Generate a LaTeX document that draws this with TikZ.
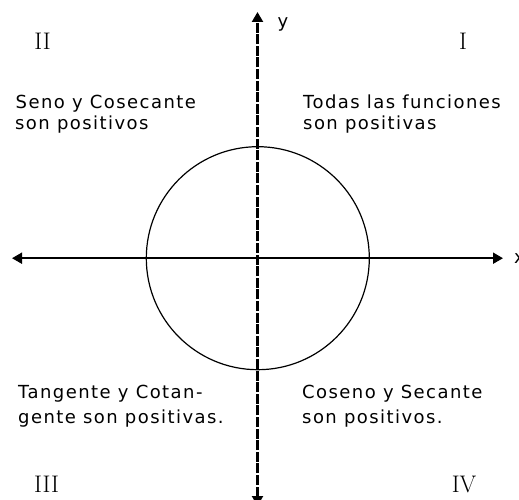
\documentclass[tikz,border=0pt]{standalone}
\usepackage{fontspec}
\newfontfamily\labfont{DejaVu Sans}[LetterSpace=8]
\usetikzlibrary{arrows.meta}
\tikzset{
  lab/.style={inner sep=0pt, anchor=base west, font=\labfont\fontsize{18}{21}\selectfont},
  quad/.style={inner sep=0pt, anchor=base, font=\fontsize{24}{28}\selectfont},
  tip/.style={Triangle[length=10pt,width=11pt]},
  xaxis/.style={line width=1.8pt, {Triangle[length=10pt,width=11pt]}-{Triangle[length=10pt,width=11pt]}},
  yaxis/.style={line width=2.2pt, dash pattern=on 10pt off 1.6pt, {Triangle[length=10pt,width=11pt]}-{Triangle[length=10pt,width=11pt]}},
}
\begin{document}
\begin{tikzpicture}[x=1pt,y=-1pt]
\useasboundingbox (0,0) rectangle (519,500);
\fill[white] (0,0) rectangle (519,500);
\coordinate (O) at (257.8,258.2);
\coordinate (xl) at (12,258.2);
\coordinate (xr) at (503,258.2);
\coordinate (yt) at (257.5,12);
\coordinate (yb) at (257.5,506);
\draw[line width=1.2pt] (O) circle (111.5);
\draw[xaxis] (xl) -- (xr);
\draw[yaxis] (yb) -- (yt);
\node[lab] (ylab) at (277.5,27.7) {y};
\node[lab] (xlab) at (514,263) {x};
\node[quad] (q2) at (42.5,50) {II};
\node[quad] (q1) at (463,50) {I};
\node[quad] (q3) at (46.5,492) {III};
\node[quad] (q4) at (464,492) {IV};
\node[lab] (t2a) at (15.5,109) {Seno y Cosecante};
\node[lab] (t2b) at (15,130) {son positivos};
\node[lab] (t1a) at (303,109) {Todas las funciones};
\node[lab] (t1b) at (303,130) {son positivas};
\node[lab] (t3a) at (18,398) {Tangente y Cotan-};
\node[lab] (t3b) at (18,423) {gente son positivas.};
\node[lab] (t4a) at (302,398) {Coseno y Secante};
\node[lab] (t4b) at (302,423) {son positivos.};
\end{tikzpicture}
\end{document}
